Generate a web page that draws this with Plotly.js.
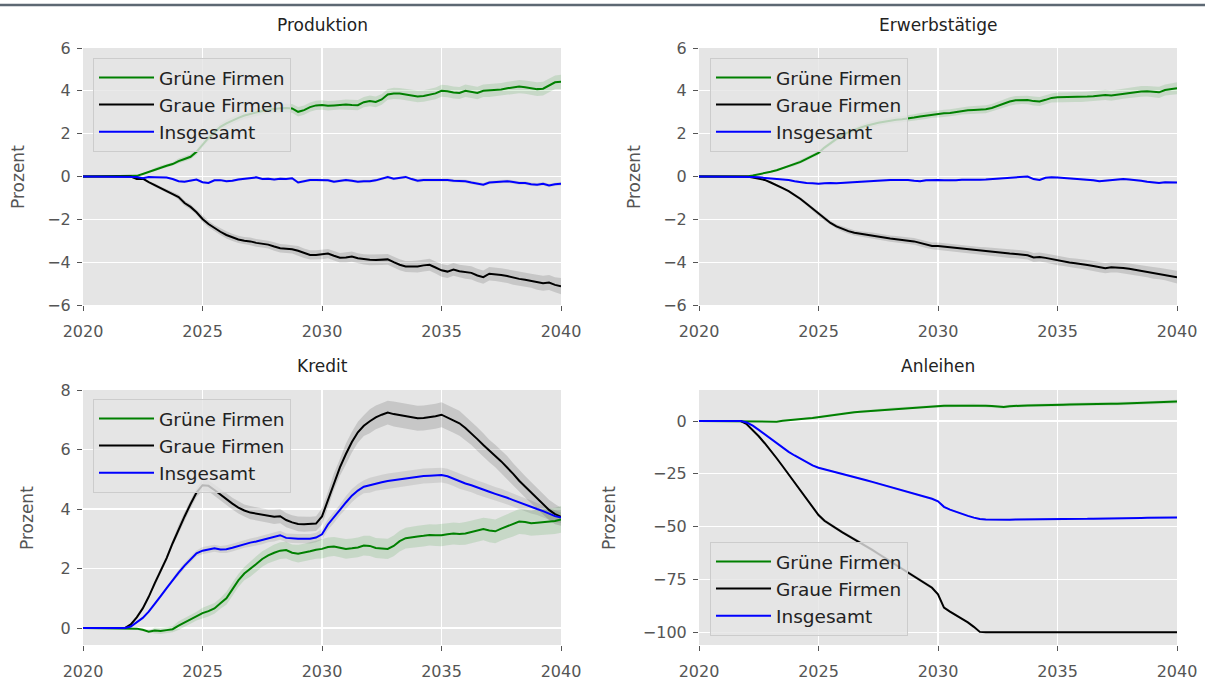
<!DOCTYPE html>
<html>
<head>
<meta charset="utf-8">
<script src="https://cdn.plot.ly/plotly-3.0.1.min.js"></script>
<style>html,body{margin:0;padding:0;background:#fff;}#chart{width:1205px;height:684px;}</style>
</head>
<body>
<div id="chart"></div>
<script>
// Quarterly time grid 2020.00 ... 2040.00
const years = [];
for (let i = 0; i <= 80; i++) years.push(2020 + i * 0.25);

const seriesNames = ['Grüne Firmen', 'Graue Firmen', 'Insgesamt'];
const panelTitles = ['Produktion', 'Erwerbstätige', 'Kredit', 'Anleihen'];
const xTicks = [2020, 2025, 2030, 2035, 2040];

// ---- Produktion ----
const prodGreen = [
  0,0,0,0, 0,0,0,0,
  0,0.03,0.12,0.22, 0.32,0.43,0.50,0.58, 0.72,0.82,0.92,1.15, 1.50,1.80,2.07,2.32,
  2.48,2.62,2.74,2.85, 2.93,2.99,3.06,3.12, 3.16,3.19,3.20,3.18, 3.02,3.10,3.24,3.32,
  3.34,3.30,3.32,3.35, 3.36,3.34,3.33,3.47, 3.53,3.48,3.60,3.83, 3.88,3.87,3.82,3.78,
  3.74,3.76,3.81,3.88, 4.00,3.98,3.92,3.90, 4.00,3.96,3.90,4.00, 4.01,4.02,4.06,4.12,
  4.16,4.20,4.17,4.13, 4.08,4.10,4.25,4.40, 4.42];
const prodGrey = [
  0,0,0,0, 0,0,0,0,
  0,-0.12,-0.10,-0.26, -0.40,-0.55,-0.68,-0.80, -0.96,-1.24,-1.42,-1.67, -1.98,-2.22,-2.42,-2.58,
  -2.73,-2.84,-2.94,-3.00, -3.03,-3.10,-3.13,-3.18, -3.27,-3.35,-3.37,-3.40, -3.47,-3.58,-3.66,-3.66,
  -3.64,-3.60,-3.70,-3.79, -3.78,-3.74,-3.82,-3.87, -3.89,-3.90,-3.88,-3.87, -4.00,-4.12,-4.20,-4.21,
  -4.20,-4.15,-4.12,-4.25, -4.38,-4.44,-4.34,-4.42, -4.46,-4.50,-4.62,-4.70, -4.54,-4.56,-4.60,-4.65,
  -4.72,-4.78,-4.82,-4.87, -4.94,-4.98,-4.95,-5.06, -5.12];
const prodTotal = [
  0,0,0,0, 0,0,0,0,
  0,-0.02,-0.08,-0.02, -0.03,-0.04,-0.05,-0.12, -0.22,-0.24,-0.20,-0.14, -0.27,-0.30,-0.18,-0.17,
  -0.22,-0.20,-0.14,-0.10, -0.06,-0.04,-0.12,-0.10, -0.14,-0.10,-0.12,-0.08, -0.28,-0.22,-0.16,-0.16,
  -0.16,-0.18,-0.24,-0.20, -0.16,-0.20,-0.24,-0.22, -0.22,-0.18,-0.10,-0.02, -0.10,-0.06,-0.02,-0.12,
  -0.20,-0.16,-0.16,-0.14, -0.16,-0.16,-0.20,-0.22, -0.22,-0.28,-0.34,-0.38, -0.28,-0.25,-0.24,-0.22,
  -0.26,-0.30,-0.30,-0.36, -0.38,-0.34,-0.42,-0.36, -0.34];
// band half-widths, one per year 2020..2040
const prodGreenBand = [0,0,0.02,0.08,0.12,0.15,0.17,0.18,0.20,0.22,0.22,0.24,0.25,0.26,0.27,0.28,0.29,0.30,0.31,0.32,0.33];
const prodGreyBand  = [0,0,0.02,0.08,0.12,0.15,0.17,0.18,0.20,0.22,0.22,0.24,0.25,0.26,0.28,0.30,0.31,0.32,0.33,0.35,0.38];
const prodTotalBand = [0,0,0.02,0.04,0.05,0.05,0.06,0.06,0.06,0.07,0.07,0.07,0.07,0.07,0.08,0.08,0.08,0.08,0.08,0.08,0.09];

// ---- Erwerbstätige ----
const empGreen = [
  0,0,0,0, 0,0,0,0,
  0,0.05,0.10,0.15, 0.22,0.29,0.38,0.47, 0.57,0.68,0.82,0.97, 1.10,1.35,1.56,1.75,
  1.95,2.06,2.18,2.28, 2.37,2.45,2.51,2.56, 2.62,2.65,2.67,2.70, 2.75,2.80,2.84,2.90,
  2.93,2.95,2.97,3.02, 3.07,3.09,3.11,3.12, 3.14,3.20,3.30,3.40, 3.50,3.56,3.58,3.57,
  3.52,3.50,3.58,3.67, 3.70,3.70,3.70,3.70, 3.71,3.73,3.75,3.77, 3.81,3.78,3.82,3.87,
  3.91,3.95,3.97,3.98, 3.96,3.93,4.04,4.08, 4.12];
const empGrey = [
  0,0,0,0, 0,0,0,0,
  0,-0.05,-0.10,-0.16, -0.28,-0.40,-0.54,-0.68, -0.86,-1.05,-1.27,-1.50, -1.75,-1.97,-2.17,-2.33,
  -2.45,-2.55,-2.63,-2.68, -2.72,-2.75,-2.80,-2.86, -2.90,-2.93,-2.95,-3.00, -3.03,-3.10,-3.18,-3.24,
  -3.25,-3.28,-3.32,-3.36, -3.39,-3.42,-3.45,-3.47, -3.49,-3.52,-3.55,-3.58, -3.60,-3.62,-3.64,-3.68,
  -3.78,-3.76,-3.80,-3.86, -3.92,-3.96,-4.02,-4.05, -4.08,-4.13,-4.18,-4.24, -4.28,-4.24,-4.24,-4.27,
  -4.31,-4.36,-4.40,-4.45, -4.50,-4.53,-4.58,-4.64, -4.70];
const empTotal = [
  0,0,0,0, 0,0,0,0,
  0,-0.02,-0.04,-0.06, -0.08,-0.10,-0.12,-0.16, -0.22,-0.27,-0.30,-0.32, -0.34,-0.32,-0.30,-0.32,
  -0.30,-0.28,-0.26,-0.23, -0.22,-0.20,-0.18,-0.17, -0.16,-0.16,-0.15,-0.16, -0.20,-0.22,-0.18,-0.16,
  -0.16,-0.18,-0.19,-0.17, -0.15,-0.16,-0.16,-0.15, -0.14,-0.12,-0.10,-0.06, -0.04,-0.02,-0.01,0.00,
  -0.12,-0.16,-0.06,-0.03, -0.05,-0.07,-0.08,-0.10, -0.12,-0.14,-0.18,-0.22, -0.20,-0.16,-0.13,-0.12,
  -0.14,-0.16,-0.20,-0.24, -0.28,-0.30,-0.27,-0.28, -0.28];
const empGreenBand = [0,0,0.02,0.05,0.08,0.10,0.12,0.14,0.15,0.16,0.17,0.18,0.19,0.20,0.21,0.22,0.23,0.24,0.25,0.26,0.28];
const empGreyBand  = [0,0,0.02,0.05,0.08,0.10,0.12,0.14,0.15,0.16,0.17,0.18,0.19,0.20,0.21,0.22,0.23,0.24,0.25,0.27,0.30];
const empTotalBand = [0,0,0.01,0.03,0.04,0.04,0.05,0.05,0.05,0.05,0.05,0.05,0.05,0.05,0.05,0.05,0.05,0.05,0.05,0.05,0.05];

// ---- Kredit ----
const credGreen = [
  0,0,0,0, 0,0,0,0,
  0,-0.02,-0.06,-0.12, -0.08,-0.10,-0.07,-0.04, 0.08,0.18,0.29,0.40, 0.50,0.57,0.66,0.83,
  1.00,1.30,1.60,1.83, 1.98,2.15,2.32,2.44, 2.53,2.60,2.62,2.53, 2.50,2.53,2.58,2.63,
  2.66,2.72,2.74,2.70, 2.66,2.68,2.71,2.77, 2.76,2.69,2.68,2.66, 2.76,2.92,3.02,3.06,
  3.08,3.10,3.13,3.12, 3.12,3.15,3.18,3.16, 3.18,3.23,3.28,3.33, 3.28,3.25,3.34,3.42,
  3.50,3.58,3.56,3.52, 3.54,3.56,3.58,3.60, 3.65];
const credGrey = [
  0,0,0,0, 0,0,0,0,
  0.12,0.36,0.66,1.05, 1.50,1.90,2.35,2.85, 3.32,3.75,4.17,4.55, 4.80,4.78,4.64,4.48,
  4.33,4.18,4.05,3.95, 3.88,3.84,3.80,3.76, 3.74,3.76,3.63,3.55, 3.50,3.49,3.49,3.51,
  3.75,4.30,4.92,5.40, 5.85,6.25,6.58,6.80, 6.95,7.08,7.17,7.24, 7.19,7.15,7.13,7.08,
  7.05,7.06,7.08,7.12, 7.17,7.08,6.98,6.88, 6.72,6.55,6.35,6.15, 5.95,5.78,5.60,5.40,
  5.18,4.95,4.75,4.55, 4.36,4.15,3.97,3.83, 3.74];
const credTotal = [
  0,0,0,0, 0,0,0,0,
  0.05,0.18,0.34,0.55, 0.80,1.07,1.34,1.61, 1.86,2.10,2.31,2.51, 2.60,2.65,2.68,2.64,
  2.65,2.70,2.76,2.83, 2.87,2.91,2.96,3.02, 3.06,3.12,3.03,3.01, 3.00,3.00,3.00,3.04,
  3.15,3.48,3.71,3.97, 4.22,4.45,4.62,4.75, 4.80,4.86,4.90,4.94, 4.97,5.00,5.03,5.06,
  5.08,5.11,5.12,5.14, 5.14,5.10,5.02,4.93, 4.86,4.80,4.72,4.65, 4.58,4.51,4.45,4.38,
  4.30,4.22,4.15,4.07, 4.00,3.93,3.84,3.76, 3.71];
const credGreenBand = [0,0,0.02,0.10,0.15,0.18,0.22,0.26,0.28,0.30,0.32,0.33,0.34,0.35,0.36,0.37,0.38,0.40,0.42,0.44,0.45];
const credGreyBand  = [0,0,0.03,0.10,0.15,0.18,0.20,0.22,0.24,0.25,0.28,0.35,0.40,0.42,0.42,0.42,0.40,0.38,0.36,0.34,0.30];
const credTotalBand = [0,0,0.02,0.06,0.10,0.12,0.13,0.14,0.15,0.16,0.18,0.22,0.25,0.25,0.25,0.25,0.24,0.23,0.22,0.20,0.18];

// ---- Anleihen ----
const bondGreen = [
  0,0,0,0, 0,0,0,0,
  0,0,0,-0.1, -0.2,-0.3,0.1,0.3, 0.5,0.8,1.2,1.5, 1.9,2.4,2.9,3.3,
  3.6,3.9,4.2,4.4, 4.6,4.9,5.2,5.4, 5.6,5.9,6.1,6.3, 6.5,6.7,6.9,7.1,
  7.2,7.3,7.3,7.3, 7.4,7.5,7.5,7.3, 7.2,7.1,6.9,6.7, 7.0,7.3,7.3,7.4,
  7.4,7.5,7.5,7.6, 7.7,7.7,7.8,7.9, 8.0,8.1,8.2,8.2, 8.2,8.2,8.2,8.3,
  8.4,8.5,8.5,8.6, 8.7,8.8,8.9,9.1, 9.2];
const bondGrey = [
  0,0,0,0, 0,0,0,0,
  -1.5,-4.2,-7.2,-10.5, -13.9,-17.6,-21.4,-25.2, -28.9,-32.6,-36.4,-40.2, -44.5,-47.2,-49.1,-51.0,
  -52.7,-54.3,-55.9,-57.5, -59.2,-61.0,-62.8,-64.6, -66.3,-68.0,-69.8,-71.6, -73.4,-75.2,-77.0,-78.9,
  -82.0,-88.3,-90.2,-91.8, -93.6,-95.3,-97.4,-99.8, -100,-100,-100,-100, -100,-100,-100,-100,
  -100,-100,-100,-100, -100,-100,-100,-100, -100,-100,-100,-100, -100,-100,-100,-100,
  -100,-100,-100,-100, -100,-100,-100,-100, -100];
const bondTotal = [
  0,0,0,0, 0,0,0,0,
  -0.7,-2.2,-4.2,-6.3, -8.4,-10.5,-12.7,-14.6, -16.3,-17.9,-19.5,-21.0, -22.1,-22.8,-23.5,-24.2,
  -24.9,-25.6,-26.4,-27.2, -28.0,-28.8,-29.6,-30.5, -31.3,-32.1,-32.9,-33.7, -34.5,-35.3,-36.1,-36.8,
  -38.0,-40.6,-41.9,-43.0, -44.0,-44.9,-45.7,-46.4, -46.6,-46.7,-46.8,-46.8, -46.7,-46.6,-46.6,-46.5,
  -46.5,-46.5,-46.4,-46.4, -46.4,-46.4,-46.4,-46.3, -46.3,-46.3,-46.2,-46.2, -46.2,-46.1,-46.1,-46.0,
  -46.0,-45.9,-45.9,-45.8, -45.8,-45.7,-45.7,-45.6, -45.6];
const bondGreenBand = [0,0,0.1,0.3,0.4,0.5,0.5,0.6,0.6,0.6,0.7,0.7,0.7,0.7,0.8,0.8,0.8,0.8,0.8,0.9,0.9];
const bondGreyBand  = [0,0,0.2,0.5,0.7,0.8,0.8,0.8,0.8,0.8,0.6,0.3,0.3,0.3,0.3,0.3,0.3,0.3,0.3,0.3,0.3];
const bondTotalBand = [0,0,0.1,0.3,0.4,0.4,0.4,0.4,0.4,0.4,0.4,0.4,0.4,0.4,0.4,0.4,0.4,0.4,0.4,0.4,0.4];

// ---------------------------------------------------------------
const FONT = 'DejaVu Sans, Liberation Sans, sans-serif';
const lineColors = ['#008000', '#000000', '#0000ff'];
const bandColors = ['rgba(0,128,0,0.13)', 'rgba(0,0,0,0.13)', 'rgba(0,0,0,0.09)'];

const panels = [
  {vals:[prodGreen, prodGrey, prodTotal], bands:[prodGreenBand, prodGreyBand, prodTotalBand]},
  {vals:[empGreen, empGrey, empTotal], bands:[empGreenBand, empGreyBand, empTotalBand]},
  {vals:[credGreen, credGrey, credTotal], bands:[credGreenBand, credGreyBand, credTotalBand]},
  {vals:[bondGreen, bondGrey, bondTotal], bands:[bondGreenBand, bondGreyBand, bondTotalBand]}
];

const traces = [];
panels.forEach((p, pi) => {
  const xa = pi === 0 ? 'x' : 'x' + (pi + 1);
  const ya = pi === 0 ? 'y' : 'y' + (pi + 1);
  const lg = pi === 0 ? 'legend' : 'legend' + (pi + 1);
  p.vals.forEach((v, si) => {
    const hw = p.bands[si];
    const up = v.map((val, i) => val + hw[Math.floor(i / 4)]);
    const lo = v.map((val, i) => val - hw[Math.floor(i / 4)]);
    traces.push({
      x: years.concat(years.slice().reverse()),
      y: up.concat(lo.slice().reverse()),
      xaxis: xa, yaxis: ya, type: 'scatter', mode: 'lines',
      fill: 'toself', fillcolor: bandColors[si], line: {width: 0},
      hoverinfo: 'skip', showlegend: false
    });
  });
  p.vals.forEach((v, si) => {
    traces.push({
      x: years, y: v, xaxis: xa, yaxis: ya, type: 'scatter', mode: 'lines',
      name: seriesNames[si], line: {color: lineColors[si], width: 2},
      legend: lg, showlegend: true
    });
  });
});

const W = 1205, H = 684;
const px = v => v / W;
const py = v => 1 - v / H;

const xCommon = {
  range: [2020, 2040], tickvals: xTicks, ticktext: xTicks.map(String),
  ticks: 'outside', ticklen: 5, tickwidth: 1, tickcolor: '#555', ticklabelstandoff: 7,
  showgrid: true, gridcolor: '#ffffff', gridwidth: 1.2, zeroline: false, showline: false,
  tickfont: {family: FONT, size: 16, color: '#555'}, fixedrange: true
};
const yCommon = {
  ticks: 'outside', ticklen: 5, tickwidth: 1, tickcolor: '#555', ticklabelstandoff: 3,
  showgrid: true, gridcolor: '#ffffff', gridwidth: 1.2, zeroline: false, showline: false,
  tickfont: {family: FONT, size: 16, color: '#555'}, fixedrange: true
};

const legendCommon = {
  xanchor: 'left', yanchor: 'top', bgcolor: 'rgba(229,229,229,0.8)',
  bordercolor: '#cccccc', borderwidth: 1, font: {family: FONT, size: 18.5, color: '#222'},
  itemwidth: 55, itemclick: false, itemdoubleclick: false
};

const leftDom = [px(83), px(561)], rightDom = [px(699), px(1177)];
const topDom = [py(305), py(48)], botDom = [py(645), py(390)];

function ann(text, x, y, size, color, angle) {
  return {text: text, x: px(x), y: py(y), xref: 'paper', yref: 'paper', showarrow: false,
          xanchor: 'center', yanchor: 'middle', textangle: angle || 0,
          font: {family: FONT, size: size, color: color}};
}

const layout = {
  width: W, height: H,
  margin: {l: 0, r: 0, t: 0, b: 0},
  paper_bgcolor: '#ffffff', plot_bgcolor: '#e5e5e5',
  font: {family: FONT, color: '#555'},
  xaxis:  Object.assign({}, xCommon, {domain: leftDom, anchor: 'y'}),
  xaxis2: Object.assign({}, xCommon, {domain: rightDom, anchor: 'y2'}),
  xaxis3: Object.assign({}, xCommon, {domain: leftDom, anchor: 'y3'}),
  xaxis4: Object.assign({}, xCommon, {domain: rightDom, anchor: 'y4'}),
  yaxis:  Object.assign({}, yCommon, {domain: topDom, anchor: 'x', range: [-6, 6], tickvals: [-6,-4,-2,0,2,4,6]}),
  yaxis2: Object.assign({}, yCommon, {domain: topDom, anchor: 'x2', range: [-6, 6], tickvals: [-6,-4,-2,0,2,4,6]}),
  yaxis3: Object.assign({}, yCommon, {domain: botDom, anchor: 'x3', range: [-0.57, 8.0], tickvals: [0,2,4,6,8]}),
  yaxis4: Object.assign({}, yCommon, {domain: botDom, anchor: 'x4', range: [-106, 14.7], tickvals: [-100,-75,-50,-25,0]}),
  legend:  Object.assign({}, legendCommon, {x: px(93),  y: py(58)}),
  legend2: Object.assign({}, legendCommon, {x: px(710), y: py(58)}),
  legend3: Object.assign({}, legendCommon, {x: px(93),  y: py(399)}),
  legend4: Object.assign({}, legendCommon, {x: px(710), y: py(542)}),
  shapes: [{type: 'line', xref: 'paper', yref: 'paper', x0: 0, x1: 1, y0: py(5), y1: py(5),
            line: {color: '#5d6873', width: 2.5}}],
  annotations: [
    ann(panelTitles[0], 322, 25, 17, '#222'),
    ann(panelTitles[1], 938, 25, 17, '#222'),
    ann(panelTitles[2], 322, 366, 17, '#222'),
    ann(panelTitles[3], 938, 366, 17, '#222'),
    ann('Prozent', 18, 177, 17, '#555', -90),
    ann('Prozent', 634, 177, 17, '#555', -90),
    ann('Prozent', 27, 518, 17, '#555', -90),
    ann('Prozent', 609, 518, 17, '#555', -90)
  ],
  showlegend: true
};

Plotly.newPlot('chart', traces, layout, {displayModeBar: false, staticPlot: true});
</script>
</body>
</html>
